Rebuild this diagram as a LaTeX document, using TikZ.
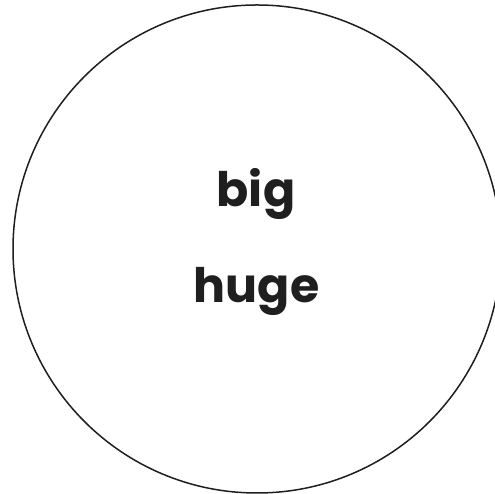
\documentclass[tikz,border=0pt]{standalone}
\usepackage{fontspec}
\setmainfont{Poppins}
\begin{document}
\begin{tikzpicture}[x=1pt,y=1pt,
  word/.style={anchor=base,inner sep=0pt,font=\fontsize{47.5}{57}\selectfont\bfseries,text=black!88}]
\useasboundingbox (0,0) rectangle (495,494);
\draw[line width=1.5pt,black!88] (257,245) circle[radius=244];
\node[word] (big) at (256,287) {big};
\node[word] (huge) at (256.5,191) {huge};
\end{tikzpicture}
\end{document}
